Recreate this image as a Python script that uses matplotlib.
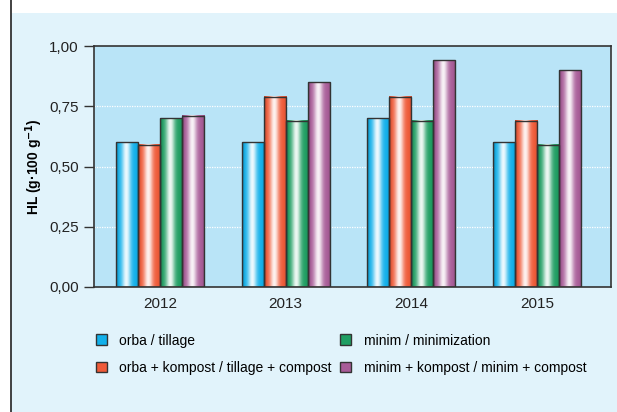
import numpy as np
import matplotlib
matplotlib.use("Agg")
import matplotlib.pyplot as plt
from matplotlib.patches import Patch, Rectangle
from matplotlib.lines import Line2D

plt.rcParams['font.family'] = ['Liberation Sans Narrow', 'Liberation Sans', 'DejaVu Sans']

years = ["2012", "2013", "2014", "2015"]
labels = ["orba / tillage",
          "orba + kompost / tillage + compost",
          "minim / minimization",
          "minim + kompost / minim + compost"]
orba = [0.60, 0.60, 0.70, 0.60]
orba_kompost = [0.59, 0.79, 0.79, 0.69]
minim = [0.70, 0.69, 0.69, 0.59]
minim_kompost = [0.71, 0.85, 0.94, 0.90]
yticks = [0.0, 0.25, 0.5, 0.75, 1.0]
ytick_labels = ["0,00", "0,25", "0,50", "0,75", "1,00"]

series = [orba, orba_kompost, minim, minim_kompost]
colors = ["#12b0ea", "#ef5a38", "#1f9e62", "#a85c98"]


def gradient(base, n=64):
    # cylinder look: dark edges, white highlight a bit left of centre
    rgb = np.array(matplotlib.colors.to_rgb(base))
    t = np.linspace(0, 1, n)
    w = np.exp(-((t - 0.45) / 0.2) ** 2) * 0.92
    dark = 1 - 0.25 * np.exp(-(t / 0.08) ** 2) - 0.15 * np.exp(-((1 - t) / 0.08) ** 2)
    col = rgb[None, :] * (1 - w[:, None]) + w[:, None]
    col = col * dark[:, None]
    return np.clip(col, 0, 1)[None, :, :]


fig = plt.figure(figsize=(6.17, 4.12), dpi=100)
fig.patch.set_facecolor("white")
fig.add_artist(Rectangle((11 / 617, 0), 1, 1 - 13 / 412, transform=fig.transFigure,
                         facecolor="#e1f3fb", edgecolor="none", zorder=-10))
fig.add_artist(Line2D([11 / 617, 11 / 617], [0, 1], transform=fig.transFigure,
                      color="#333333", linewidth=1.3, zorder=-5))

ax = fig.add_axes([94 / 617, 1 - 287 / 412, 517 / 617, 241 / 412])
ax.set_facecolor("#b9e4f7")

x = np.arange(len(years))
width = 0.175
offsets = [-1.5, -0.5, 0.5, 1.5]
for vals, c, off in zip(series, colors, offsets):
    bars = ax.bar(x + off * width, vals, width, color="none", edgecolor="#333333",
                  linewidth=1.0, zorder=3)
    for b in bars:
        ax.imshow(gradient(c), extent=[b.get_x(), b.get_x() + b.get_width(), 0, b.get_height()],
                  aspect="auto", interpolation="bilinear", zorder=2.5)

ax.set_xlim(-0.524, 3.587)
ax.set_ylim(0, 1.0)
ax.set_aspect("auto")
ax.set_xticks(x)
ax.set_xticklabels(years, fontsize=11, color="#222222")
ax.tick_params(axis="x", length=0, pad=7)
ax.set_yticks(yticks)
ax.set_yticklabels(ytick_labels, fontsize=11, color="#222222")
ax.tick_params(axis="y", direction="out", length=7, width=1, color="#333333", pad=4)
for v in yticks[1:-1]:
    ax.axhline(v, color="white", linestyle=(0, (1, 1)), linewidth=0.9, zorder=1)
for s in ax.spines.values():
    s.set_color("#333333")
    s.set_linewidth(1.2)

ax.set_ylabel("HL (g·100 g$^{\\mathbf{-1}}$)", fontsize=10, fontweight="bold", labelpad=3)

handles = [Patch(facecolor=c, edgecolor="#333333") for c in colors]
fig.legend(handles, labels, loc="upper left", bbox_to_anchor=(90 / 617, 1 - 328 / 412),
           ncol=2, frameon=False, fontsize=10, handlelength=0.8, handleheight=0.8,
           handletextpad=0.9, columnspacing=0.6, labelspacing=0.95, borderaxespad=0)

fig.savefig("out.png", dpi=100)
